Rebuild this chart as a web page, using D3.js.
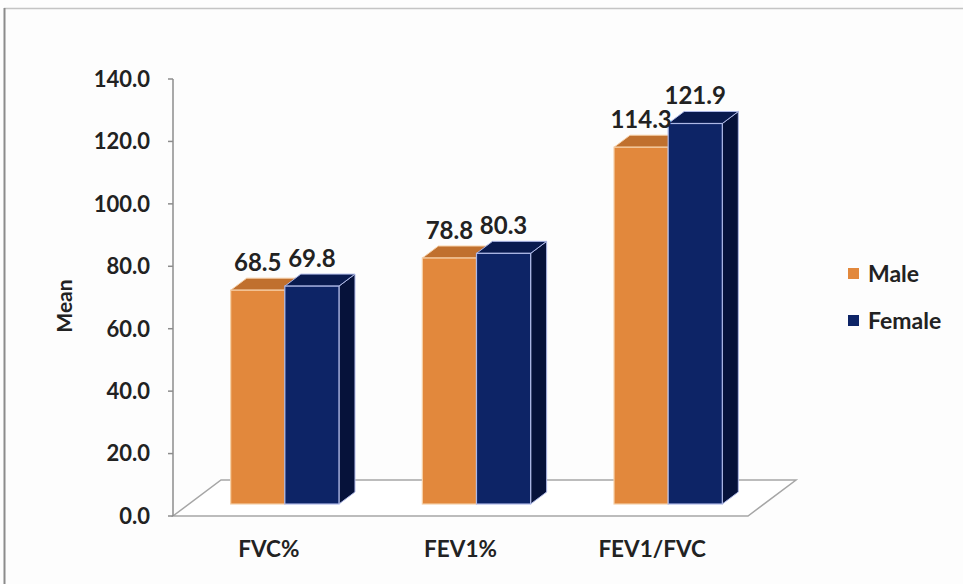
<!DOCTYPE html>
<html>
<head>
<meta charset="utf-8">
<script src="https://cdn.jsdelivr.net/npm/d3@7"></script>
<style>
  html, body { margin: 0; padding: 0; background: #ffffff; }
  svg { display: block; }
  text { font-family: Lato, "Open Sans", sans-serif; font-weight: 700; fill: #222222; }
</style>
</head>
<body>
<svg id="chart" width="963" height="584"></svg>
<script>
// Spirometry means by sex
const categories = ["FVC%", "FEV1%", "FEV1/FVC"];
const seriesNames = ["Male", "Female"];
const maleValues = [68.5, 78.8, 114.3];
const femaleValues = [69.8, 80.3, 121.9];
const yTicks = [0, 20, 40, 60, 80, 100, 120, 140];

const palette = {
  Male:   { front: "#E2883C", top: "#C0702E", side: "#A65E24", edge: "#F6CFA6" },
  Female: { front: "#0D2466", top: "#091A4E", side: "#06123A", edge: "#AEB8E6" }
};

const svg = d3.select("#chart");
const W = 963, H = 584;

// outer frame
svg.append("rect").attr("x", 0).attr("y", 0).attr("width", W).attr("height", H).attr("fill", "#fdfdfd");
svg.append("line").attr("x1", 4).attr("x2", W).attr("y1", 8.5).attr("y2", 8.5)
  .attr("stroke", "#c4c4c4").attr("stroke-width", 1.5);
svg.append("line").attr("x1", 4.5).attr("x2", 4.5).attr("y1", 8).attr("y2", H)
  .attr("stroke", "#8c8c8c").attr("stroke-width", 2);

// front-plane scales
const left = 173, right = 748, base = 516, topY = 79;
const y = d3.scaleLinear().domain([0, 140]).range([base, topY]);
const x0 = d3.scaleBand().domain(categories).range([left, right])
  .paddingInner(0.435).paddingOuter(0.2175);
const x1 = d3.scaleBand().domain(seriesNames).range([0, x0.bandwidth()]);

// depth vector of one slice (bar sits in the middle slice of the floor)
const dx = 16, dy = -12;

// floor
const floor = [
  [left, base], [right, base],
  [right + 3 * dx, base + 3 * dy], [left + 3 * dx, base + 3 * dy]
];
svg.append("polygon")
  .attr("points", floor.map(p => p.join(",")).join(" "))
  .attr("fill", "#ffffff").attr("stroke", "#a6a6a6").attr("stroke-width", 1.5);

// y axis
svg.append("line").attr("x1", left).attr("x2", left).attr("y1", y(140)).attr("y2", base)
  .attr("stroke", "#8c8c8c").attr("stroke-width", 1.5);
const yAxis = svg.append("g");
yAxis.selectAll("line.tick").data(yTicks).join("line")
  .attr("x1", left - 5).attr("x2", left)
  .attr("y1", d => y(d)).attr("y2", d => y(d))
  .attr("stroke", "#8c8c8c").attr("stroke-width", 1.5);
yAxis.selectAll("text").data(yTicks).join("text")
  .attr("x", 150).attr("y", d => y(d))
  .attr("dy", "0.36em")
  .attr("text-anchor", "end")
  .style("font-size", "22px")
  .text(d => d3.format(".1f")(d));

// y title
svg.append("text")
  .attr("transform", "translate(72,306) rotate(-90)")
  .attr("text-anchor", "middle")
  .style("font-size", "21px")
  .text("Mean");

// bars (drawn left to right so each front face covers its neighbour's side)
const bars = [];
categories.forEach((c, i) => {
  bars.push({ cat: c, s: "Male", v: maleValues[i] });
  bars.push({ cat: c, s: "Female", v: femaleValues[i] });
});

const gBars = svg.append("g");
bars.forEach(b => {
  const col = palette[b.s];
  const xl = x0(b.cat) + x1(b.s) + dx;
  const xr = xl + x1.bandwidth();
  const yb = y(0) + dy;
  const yt = y(b.v) + dy;
  const g = gBars.append("g");
  // side
  g.append("polygon")
    .attr("points", [[xr, yt], [xr + dx, yt + dy], [xr + dx, yb + dy], [xr, yb]].map(p => p.join(",")).join(" "))
    .attr("fill", col.side).attr("stroke", col.edge).attr("stroke-width", 1);
  // top
  g.append("polygon")
    .attr("points", [[xl, yt], [xl + dx, yt + dy], [xr + dx, yt + dy], [xr, yt]].map(p => p.join(",")).join(" "))
    .attr("fill", col.top).attr("stroke", col.edge).attr("stroke-width", 1);
  // front
  g.append("rect")
    .attr("x", xl).attr("y", yt).attr("width", xr - xl).attr("height", yb - yt)
    .attr("fill", col.front).attr("stroke", col.edge).attr("stroke-width", 1.2);
});

// value labels above the back edge of each bar top
svg.append("g").selectAll("text").data(bars).join("text")
  .attr("x", b => x0(b.cat) + x1(b.s) + dx + x1.bandwidth() / 2)
  .attr("y", b => y(b.v) + 2 * dy - 7)
  .attr("text-anchor", "middle")
  .style("font-size", "24px")
  .text(b => d3.format(".1f")(b.v));

// category labels
svg.append("g").selectAll("text").data(categories).join("text")
  .attr("x", c => x0(c) + x0.bandwidth() / 2)
  .attr("y", 557)
  .attr("text-anchor", "middle")
  .style("font-size", "22.5px")
  .text(c => c);

// legend
const legend = svg.append("g").attr("transform", "translate(848,268)");
seriesNames.forEach((s, i) => {
  const row = legend.append("g").attr("transform", `translate(0,${i * 47})`);
  row.append("rect").attr("width", 11).attr("height", 11).attr("fill", palette[s].front);
  row.append("text").attr("x", 20).attr("y", 5.5).attr("dy", "0.36em")
    .style("font-size", "23px").text(s);
});
</script>
</body>
</html>
